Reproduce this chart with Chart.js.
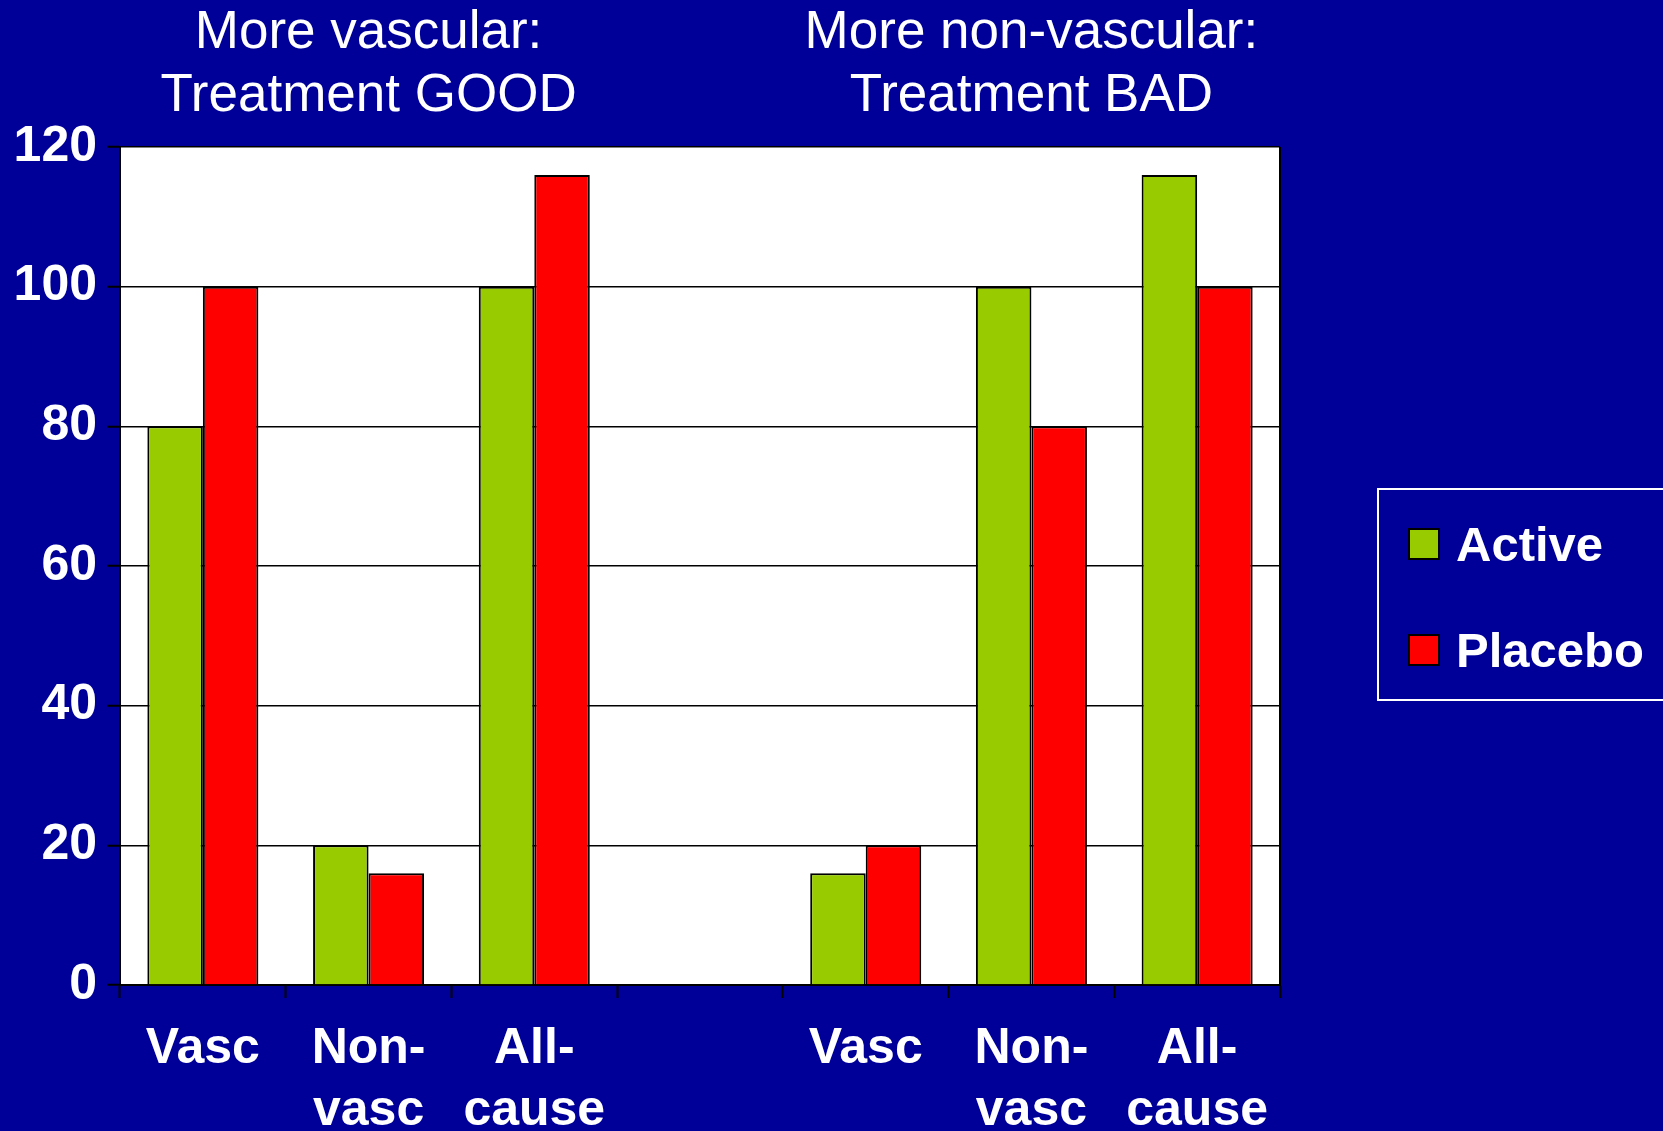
<!DOCTYPE html>
<html lang="en">
<head>
  <meta charset="UTF-8">
  <title>Active vs Placebo</title>
  <script src="https://cdn.jsdelivr.net/npm/chart.js"></script>
  <style>
    html, body { margin: 0; padding: 0; background: #000099; overflow: hidden; }
    #wrap { position: relative; width: 1663px; height: 1131px; }
    #legend {
      position: absolute; left: 1377px; top: 488px; width: 320px; height: 213px;
      border: 2px solid #fff; box-sizing: border-box;
      font-family: "Liberation Sans", Arial, sans-serif; font-weight: bold; font-size: 49px; color: #fff;
    }
    #legend .item { position: absolute; left: 29px; display: flex; align-items: center; }
    #legend .box { width: 28px; height: 28px; border: 2px solid #000; margin-right: 16px; }
  </style>
</head>
<body>
  <div id="wrap">
    <canvas id="chart"></canvas>
    <div id="legend"></div>
  </div>

  <script>
    const categories = ['Vasc', ['Non-', 'vasc'], ['All-', 'cause'], '', 'Vasc', ['Non-', 'vasc'], ['All-', 'cause']];
    const activeValues = [80, 20, 100, null, 16, 100, 116];
    const placeboValues = [100, 16, 116, null, 20, 80, 100];
    const groupTitles = [
      { at: 1, lines: ['More vascular:', 'Treatment GOOD'] },
      { at: 5, lines: ['More non-vascular:', 'Treatment BAD'] }
    ];

    const FONT = '"Liberation Sans", Arial, sans-serif';

    // white plot area with a black frame, and the two group headings
    const plotFrame = {
      id: 'plotFrame',
      beforeDraw(chart) {
        const { ctx, chartArea: a } = chart;
        ctx.save();
        ctx.fillStyle = '#fff';
        ctx.fillRect(a.left, a.top, a.right - a.left, a.bottom - a.top);
        ctx.restore();
      },
      afterDraw(chart) {
        const { ctx, chartArea: a } = chart;
        ctx.save();
        ctx.strokeStyle = '#000';
        ctx.lineWidth = 2;
        ctx.beginPath();
        ctx.moveTo(a.right, a.top);
        ctx.lineTo(a.right, a.bottom + 13);
        ctx.stroke();

        ctx.fillStyle = '#fff';
        ctx.font = '53px ' + FONT;
        ctx.textAlign = 'center';
        ctx.textBaseline = 'middle';
        groupTitles.forEach(t => {
          const x = chart.scales.x.getPixelForValue(t.at);
          t.lines.forEach((line, i) => ctx.fillText(line, x, 33 + i * 63));
        });
        ctx.restore();
      }
    };

    const chart = new Chart(document.getElementById('chart'), {
      type: 'bar',
      data: {
        labels: categories,
        datasets: [
          { label: 'Active', data: activeValues, backgroundColor: '#99CC00', borderColor: '#000', borderWidth: 2 },
          { label: 'Placebo', data: placeboValues, backgroundColor: '#FF0000', borderColor: '#000', borderWidth: 2 }
        ]
      },
      options: {
        responsive: true,
        maintainAspectRatio: false,
        animation: false,
        categoryPercentage: 0.67,
        barPercentage: 1,
        layout: { padding: { top: 147, right: 383, left: 0, bottom: 0 } },
        plugins: {
          legend: { display: false },
          tooltip: { enabled: false }
        },
        scales: {
          x: {
            grid: { drawOnChartArea: false, tickLength: 13, tickColor: '#000', tickWidth: 2 },
            border: { color: '#000', width: 2 },
            ticks: {
              color: '#fff', padding: 20, maxRotation: 0, autoSkip: false,
              font: { family: FONT, size: 50, weight: 'bold', lineHeight: 1.24 }
            },
            afterFit(scale) { scale.height = 1131 - 985; }
          },
          y: {
            min: 0, max: 120,
            ticks: {
              stepSize: 20, color: '#fff', padding: 10,
              font: { family: FONT, size: 50, weight: 'bold' }
            },
            grid: { color: '#000', lineWidth: 1.5, tickLength: 13, tickColor: '#000', tickWidth: 2 },
            border: { color: '#000', width: 2 },
            afterFit(scale) { scale.width = 120; }
          }
        }
      },
      plugins: [plotFrame]
    });

    // legend box to the right of the plot
    const legend = document.getElementById('legend');
    chart.data.datasets.forEach((ds, i) => {
      const item = document.createElement('div');
      item.className = 'item';
      item.style.top = (i === 0 ? 26 : 132) + 'px';
      item.innerHTML = `<span class="box" style="background:${ds.backgroundColor}"></span><span>${ds.label}</span>`;
      legend.appendChild(item);
    });
  </script>
</body>
</html>
